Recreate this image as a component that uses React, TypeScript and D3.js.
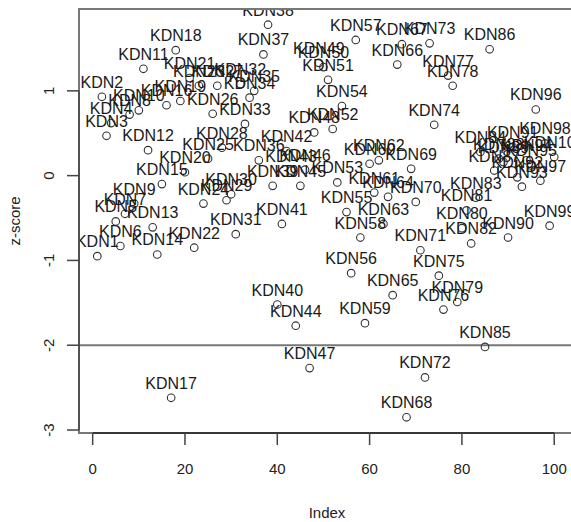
import * as d3 from 'd3';

// z-score per sample, in index order (KDN1 .. KDN100)
const zScores = [
  -0.95, 0.93, 0.47, 0.62, -0.54, -0.83, -0.45, 0.72, -0.33, 0.77,
  1.26, 0.30, -0.61, -0.93, -0.10, 0.83, -2.62, 1.48, 0.88, 0.04,
  1.15, -0.85, 1.06, -0.33, 0.20, 0.73, 1.06, 0.33, -0.29, -0.22,
  -0.69, 1.08, 0.61, 0.92, 1.00, 0.18, 1.43, 1.78, -0.12, -1.52,
  -0.57, 0.29, 0.06, -1.77, -0.12, 0.07, -2.27, 0.51, 1.33, 1.28,
  1.13, 0.55, -0.08, 0.82, -0.43, -1.15, 1.60, -0.73, -1.74, 0.14,
  -0.20, 0.18, -0.57, -0.25, -1.41, 1.31, 1.55, -2.85, 0.08, -0.31,
  -0.88, -2.38, 1.56, 0.60, -1.18, -1.58, 1.18, 1.06, -1.49, -0.62,
  -0.41, -0.80, -0.26, 0.28, -2.02, 1.49, 0.06, 0.20, 0.16, -0.73,
  0.34, -0.02, -0.13, 0.18, 0.12, 0.78, -0.06, 0.38, -0.59, 0.22,
];
const sampleIds = zScores.map((_, i) => i + 1);
const sampleLabels = sampleIds.map(i => `KDN${i}`);
const cutoff = -2;
const xTicks = [0, 20, 40, 60, 80, 100];
const yTicks = [-3, -2, -1, 0, 1];

const W = 571;
const H = 522;
const box = { left: 79, right: 572.5, top: 9, bottom: 433 };
const font = '"Liberation Sans", Arial, Helvetica, sans-serif';

export default function App() {
  // R style: data range padded by 4% each side
  const xPad = (d3.max(sampleIds)! - d3.min(sampleIds)!) * 0.04;
  const yPad = (d3.max(zScores)! - d3.min(zScores)!) * 0.04;
  const x = d3.scaleLinear()
    .domain([d3.min(sampleIds)! - xPad, d3.max(sampleIds)! + xPad])
    .range([box.left, box.right]);
  const y = d3.scaleLinear()
    .domain([d3.min(zScores)! - yPad, d3.max(zScores)! + yPad])
    .range([box.bottom, box.top]);

  const tickLen = 12;

  return (
    <svg width={W} height={H} style={{ position: 'absolute', left: 0, top: 0, background: '#fff' }}
      fontFamily={font}>
      <defs>
        <clipPath id="plotClip">
          <rect x={box.left} y={box.top} width={box.right - box.left} height={box.bottom - box.top} />
        </clipPath>
      </defs>
      <rect x={0} y={0} width={W} height={H} fill="#fff" />

      {/* abline at cutoff */}
      <line x1={box.left} x2={box.right} y1={y(cutoff)} y2={y(cutoff)} stroke="#777" strokeWidth={2} />

      <g clipPath="url(#plotClip)">
        {zScores.map((v, i) => (
          <circle key={'p' + i} cx={x(sampleIds[i])} cy={y(v)} r={3.8}
            fill="none" stroke="#333" strokeWidth={1.1} />
        ))}
        {zScores.map((v, i) => (
          <text key={'t' + i} x={x(sampleIds[i])} y={y(v) - 9} textAnchor="middle"
            fontSize={16} fill="#1a1a1a">{sampleLabels[i]}</text>
        ))}
      </g>

      {/* box */}
      <rect x={box.left} y={box.top} width={box.right - box.left} height={box.bottom - box.top}
        fill="none" stroke="#777" strokeWidth={2} />

      {/* x axis */}
      <line x1={x(xTicks[0])} x2={x(xTicks[xTicks.length - 1])} y1={box.bottom} y2={box.bottom}
        stroke="#222" strokeWidth={1.5} />
      {xTicks.map(t => (
        <g key={'xt' + t}>
          <line x1={x(t)} x2={x(t)} y1={box.bottom} y2={box.bottom + tickLen} stroke="#444" strokeWidth={1.5} />
          <text x={x(t)} y={474} textAnchor="middle" fontSize={15} fill="#222">{t}</text>
        </g>
      ))}

      {/* y axis */}
      <line x1={box.left} x2={box.left} y1={y(yTicks[0])} y2={y(yTicks[yTicks.length - 1])}
        stroke="#444" strokeWidth={1.5} />
      {yTicks.map(t => (
        <g key={'yt' + t}>
          <line x1={box.left - tickLen} x2={box.left} y1={y(t)} y2={y(t)} stroke="#444" strokeWidth={1.5} />
          <text transform={`translate(54, ${y(t)}) rotate(-90)`} textAnchor="middle"
            fontSize={15} fill="#222">{t}</text>
        </g>
      ))}

      <text x={(box.left + 571) / 2 + 2} y={518} textAnchor="middle" fontSize={15} fill="#222">Index</text>
      <text transform={`translate(20, ${(box.top + box.bottom) / 2}) rotate(-90)`} textAnchor="middle"
        fontSize={15} fill="#222">z-score</text>
    </svg>
  );
}
